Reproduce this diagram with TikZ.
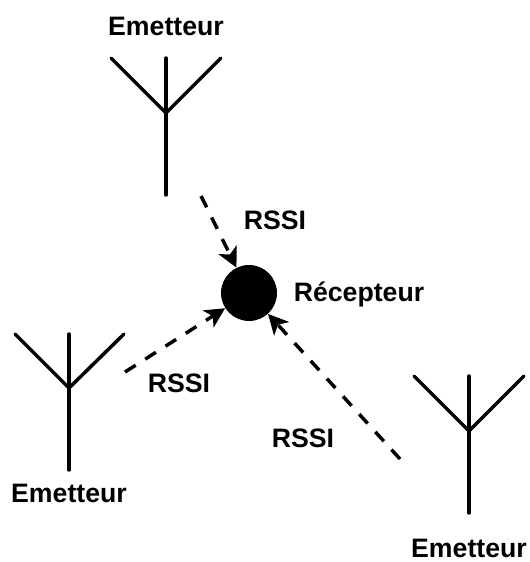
\documentclass[tikz,border=0pt]{standalone}
\usepackage{fontspec}
\setmainfont{Liberation Sans}
\usetikzlibrary{arrows.meta}
\tikzset{
 lbl/.style={font=\bfseries\fontsize{20pt}{24pt}\selectfont,inner sep=0pt,text=black},
 ant/.style={line width=2.6pt,black,line cap=round},
 sig/.style={line width=2.6pt,black,dash pattern=on 9.5pt off 8.5pt,-{Stealth[length=15pt,width=15pt,inset=4pt]}},
 x=0.75pt,y=-0.75pt
}
\begin{document}
\begin{tikzpicture}
\useasboundingbox (0,0) rectangle (530,562);
% antennas
\coordinate (a1) at (166,113);
\coordinate (a2) at (69,388);
\coordinate (a3) at (469,431);
\draw[ant] (111,58) -- (a1) -- (221,58);
\draw[ant] (166,58) -- (166,195);
\draw[ant] (15,334) -- (a2) -- (124,334);
\draw[ant] (69,334) -- (69,470);
\draw[ant] (414,376) -- (a3) -- (524,376);
\draw[ant] (469,376) -- (469,513);
\node[circle,fill=black,minimum size=42pt,inner sep=0pt] (r) at (249,293) {};
\coordinate (s1) at (201,196);
\coordinate (s2) at (125,372);
\coordinate (s3) at (400,459);
\draw[sig] (s1) -- (r);
\draw[sig] (s2) -- (r);
\draw[sig] (s3) -- (r);
\node[lbl] (e1) at (166,26) {Emetteur};
\node[lbl] (e2) at (69,493) {Emetteur};
\node[lbl] (e3) at (469,548) {Emetteur};
\node[lbl] (rc) at (359,294) {Récepteur};
\node[lbl] (l1) at (275,220) {RSSI};
\node[lbl] (l2) at (179,383) {RSSI};
\node[lbl] (l3) at (303,438) {RSSI};
\end{tikzpicture}
\end{document}
